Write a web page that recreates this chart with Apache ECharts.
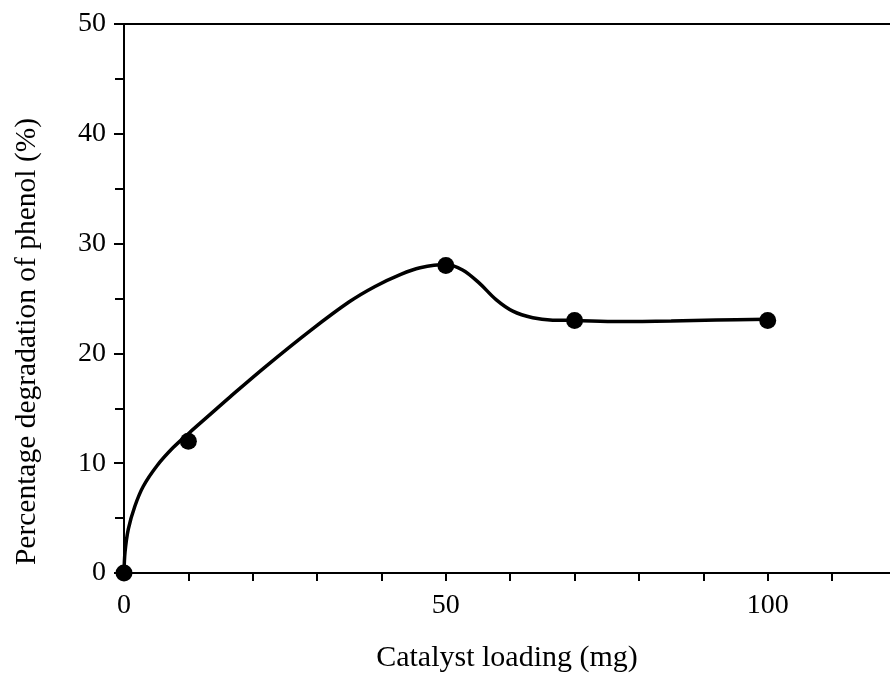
<!DOCTYPE html>
<html>
<head>
<meta charset="utf-8">
<script src="https://cdn.jsdelivr.net/npm/echarts@6/dist/echarts.min.js"></script>
<style>
    html, body { margin: 0; padding: 0; background: #fff; }
    #chart { width: 890px; height: 678px; }
</style>
</head>
<body>
<div id="chart"></div>
<script>
    // measured points (catalyst loading mg, degradation %)
    var loading = [0, 10, 50, 70, 100];
    var degradation = [0, 12, 28, 23, 23];

    // fitted curve
    var curveX = [0, 0.16, 0.67, 1.7, 3.0, 5.1, 7.6, 10.2, 13.3, 16.4, 22, 29, 35, 39, 43, 46, 50,
                  52.6, 55.2, 57.8, 60.4, 63.5, 66.6, 70, 77, 85, 92, 100];
    var curveY = [0, 1.9, 4.0, 6.1, 7.9, 9.75, 11.4, 12.8, 14.4, 16.0, 18.8, 22.1, 24.7, 26.1, 27.2, 27.8, 28.1,
                  27.6, 26.4, 24.9, 23.85, 23.25, 23.03, 23.0, 22.9, 22.95, 23.05, 23.1];

    var xTicks = [0, 10, 20, 30, 40, 50, 60, 70, 80, 90, 100, 110];
    var xLabels = [0, 50, 100];

    var font = '"Liberation Serif", "Times New Roman", serif';

    var markers = loading.map(function (x, i) { return [x, degradation[i]]; });
    var curve = curveX.map(function (x, i) { return [x, curveY[i]]; });

    var myChart = echarts.init(document.getElementById('chart'));
    var option = {
        animation: false,
        grid: { left: 124, right: 0, top: 24, bottom: 104 },
        xAxis: [{
            type: 'value',
            min: 0,
            max: 119,
            name: 'Catalyst loading (mg)',
            nameLocation: 'middle',
            nameGap: 70,
            nameTextStyle: { fontFamily: font, fontSize: 30, color: '#000' },
            splitLine: { show: false },
            axisLine: { lineStyle: { color: '#000', width: 2 } },
            axisTick: { customValues: xTicks, length: 8, lineStyle: { color: '#000', width: 2 } },
            axisLabel: { customValues: xLabels, margin: 19, fontFamily: font, fontSize: 28, color: '#000' }
        }, {
            type: 'value',
            position: 'top',
            min: 0,
            max: 119,
            splitLine: { show: false },
            axisLine: { show: true, lineStyle: { color: '#000', width: 2 } },
            axisTick: { show: false },
            axisLabel: { show: false }
        }],
        yAxis: {
            type: 'value',
            min: 0,
            max: 50,
            interval: 10,
            name: 'Percentage degradation of phenol (%)',
            nameLocation: 'middle',
            nameGap: 82,
            // shifted down a bit like the original
            nameTextStyle: { fontFamily: font, fontSize: 29.5, color: '#000', padding: [0, 86, 0, 0] },
            splitLine: { show: false },
            axisLine: { show: true, lineStyle: { color: '#000', width: 2 } },
            axisTick: { length: 10, lineStyle: { color: '#000', width: 2 } },
            minorTick: { show: true, splitNumber: 2, length: 9, lineStyle: { color: '#000', width: 2 } },
            axisLabel: { margin: 18, fontFamily: font, fontSize: 28, color: '#000' }
        },
        series: [
            {
                type: 'line',
                data: curve,
                smooth: 0.35,
                symbol: 'none',
                lineStyle: { color: '#000', width: 3.5 },
                z: 3
            },
            {
                type: 'scatter',
                data: markers,
                symbol: 'circle',
                symbolSize: 17,
                clip: false,
                itemStyle: { color: '#000', opacity: 1 },
                z: 5
            }
        ]
    };
    myChart.setOption(option);
</script>
</body>
</html>
